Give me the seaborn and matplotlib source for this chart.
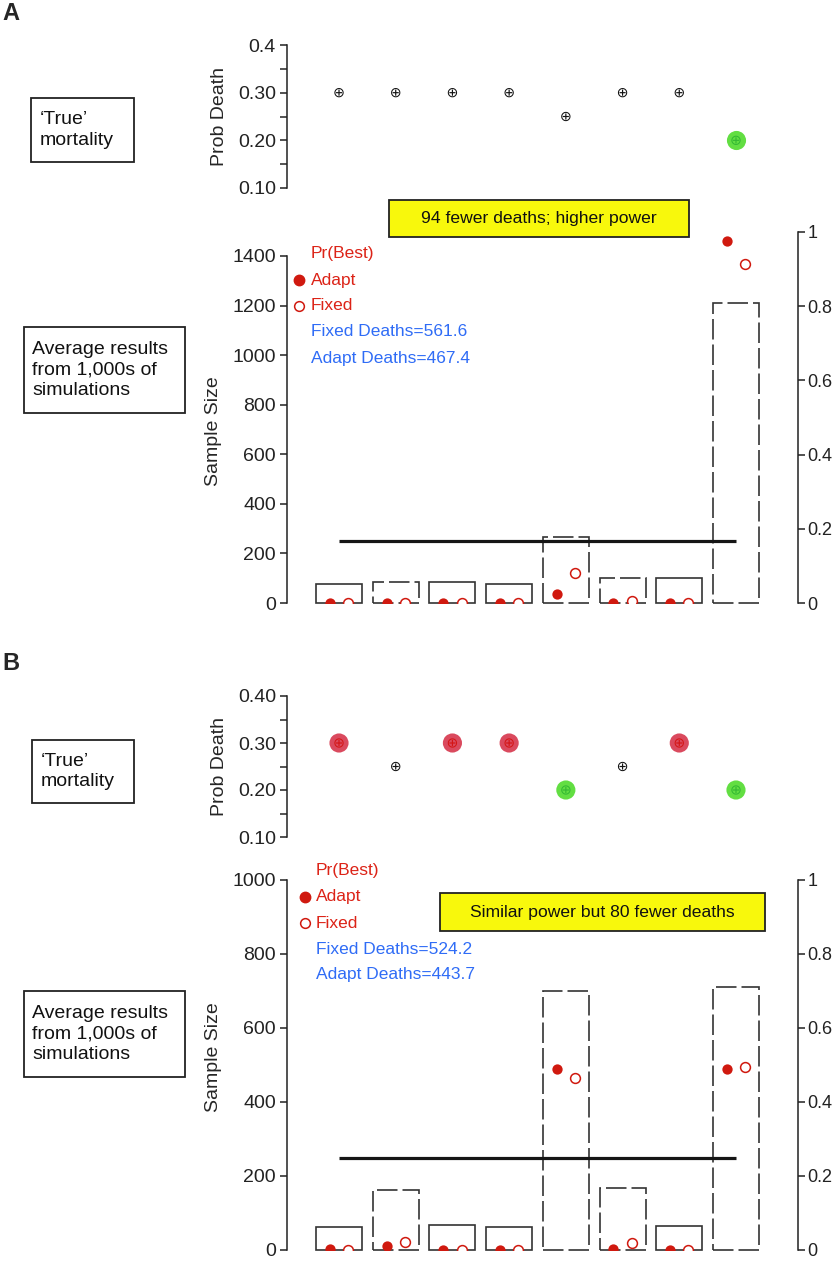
import numpy as np
import pandas as pd
import matplotlib.pyplot as plt
import seaborn as sns
from matplotlib.patches import Rectangle
from matplotlib.lines import Line2D

# --- data ---
arms = [0, 1, 2, 3, 4, 5, 6, 7]
target_n = 250

true_mort_a = [0.30, 0.30, 0.30, 0.30, 0.25, 0.30, 0.30, 0.20]
status_a = ["none", "none", "none", "none", "none", "none", "none", "best"]
sample_a = [75, 85, 85, 78, 265, 100, 100, 1210]
dashed_a = [False, True, False, False, True, True, False, True]
pbest_adapt_a = [0.0, 0.0, 0.0, 0.0, 0.024, 0.0, 0.0, 0.976]
pbest_fixed_a = [0.0, 0.0, 0.0, 0.0, 0.081, 0.005, 0.0, 0.914]

true_mort_b = [0.30, 0.25, 0.30, 0.30, 0.20, 0.25, 0.30, 0.20]
status_b = ["worst", "none", "worst", "worst", "best", "none", "worst", "best"]
sample_b = [62, 163, 68, 62, 700, 167, 66, 711]
dashed_b = [False, True, False, False, True, True, False, True]
pbest_adapt_b = [0.002, 0.011, 0.0, 0.0, 0.49, 0.003, 0.0, 0.49]
pbest_fixed_b = [0.0, 0.022, 0.0, 0.0, 0.465, 0.019, 0.0, 0.495]

deaths_a = (561.6, 467.4)
deaths_b = (524.2, 443.7)

sns.set_theme(style="ticks")
plt.rcParams["font.family"] = ["Liberation Sans", "DejaVu Sans"]

W, H = 840, 1261
fig = plt.figure(figsize=(W / 100, H / 100), dpi=100)


def fx(px):
    return px / W


def fy(py):
    return 1 - py / H


RED = "#d0190f"
RED_TXT = "#dc2317"
BLUE = "#2f6cf6"
EDGE = "#333333"
X0, X1 = 287, 798
XLIM = (-(339 - 287) / 56.7, 7 + (798 - 736) / 56.7)


def style_axis(ax):
    ax.tick_params(axis="y", direction="out", length=5, width=1.1, labelsize=14,
                   pad=3, colors="#222222")
    ax.tick_params(axis="y", which="minor", direction="out", length=5, width=1.1)
    ax.set_xticks([])
    ax.set_xlabel("")
    ax.set_xlim(*XLIM)


def top_panel(ytop, ybot, mort, status, labels):
    ax = fig.add_axes([fx(X0), fy(ybot), (X1 - X0) / W, (ybot - ytop) / H])
    df = pd.DataFrame({"arm": arms, "mort": mort, "status": status})
    hi = df[df["status"] != "none"]
    sns.scatterplot(data=hi, x="arm", y="mort", hue="status",
                    palette={"best": "#62de42", "worst": "#da4a5e"},
                    s=190, linewidth=0, legend=False, ax=ax, zorder=2)
    sns.scatterplot(data=df, x="arm", y="mort", hue="status",
                    palette={"none": "#111111", "best": "#33b833", "worst": "#d41515"},
                    marker=r"$\oplus$", s=45, linewidth=0, legend=False, ax=ax, zorder=3)
    ax.set_ylim(0.1, 0.4)
    ax.set_yticks([0.1, 0.2, 0.3, 0.4])
    ax.set_yticks([0.15, 0.25, 0.35], minor=True)
    ax.set_yticklabels(labels)
    for s in ["top", "right", "bottom"]:
        ax.spines[s].set_visible(False)
    ax.spines["left"].set_linewidth(1.1)
    ax.spines["left"].set_color("#222222")
    style_axis(ax)
    ax.set_ylabel("Prob Death", fontsize=14)
    ax.yaxis.set_label_coords((228 - X0) / (X1 - X0), 0.5)
    return ax


def bottom_panel(ytop, ybot, ymax, ylim_top, sizes, dashed, pa, pf, label_y):
    ax = fig.add_axes([fx(X0), fy(ybot), (X1 - X0) / W, (ybot - ytop) / H])
    df = pd.DataFrame({"arm": arms, "n": sizes})
    sns.barplot(data=df, x="arm", y="n", native_scale=True, width=0.81, fill=False,
                color=EDGE, linewidth=1.2, errorbar=None, ax=ax)
    for patch, d in zip(ax.patches, dashed):
        patch.set_edgecolor(EDGE)
        patch.set_clip_on(False)
        if d:
            patch.set_linestyle((0, (12.3, 3)))
    ax.hlines(target_n, arms[0], arms[-1], color="#151515", lw=2.3, zorder=4)
    ax.set_ylim(0, ylim_top)
    ax.set_yticks(np.arange(0, ymax + 1, 200))
    for s in ["top", "right", "bottom"]:
        ax.spines[s].set_visible(False)
    ax.spines["left"].set_bounds(0, ymax)
    ax.spines["left"].set_linewidth(1.1)
    ax.spines["left"].set_color("#222222")
    style_axis(ax)
    ax.set_ylabel("Sample Size", fontsize=14)
    ax.yaxis.set_label_coords((222 - X0) / (X1 - X0), (ybot - label_y) / (ybot - ytop))

    axr = ax.twinx()
    pdf = pd.DataFrame({"arm": arms, "adapt": pa, "fixed": pf})
    sns.scatterplot(x=pdf["arm"] - 0.16, y=pdf["adapt"], color=RED, s=55,
                    linewidth=0, ax=axr, zorder=5)
    axr.scatter(pdf["arm"] + 0.16, pdf["fixed"], s=50, facecolors="white",
                edgecolors=RED, linewidths=1.1, zorder=5)
    axr.set_ylim(0, 1)
    axr.set_yticks([0, 0.2, 0.4, 0.6, 0.8, 1.0])
    axr.set_yticklabels(["0", "0.2", "0.4", "0.6", "0.8", "1"])
    for s in ["top", "left", "bottom"]:
        axr.spines[s].set_visible(False)
    axr.spines["right"].set_linewidth(1.1)
    axr.spines["right"].set_color("#222222")
    axr.tick_params(axis="y", direction="out", length=5, width=1.1, labelsize=13,
                    pad=2, colors="#222222")
    axr.set_ylabel("")
    axr.set_xticks([])
    axr.set_xlim(*XLIM)
    return ax


def legend_block(xdot, xtxt, rows, deaths):
    fig.text(fx(xtxt), fy(rows[0]), "Pr(Best)", color=RED_TXT, fontsize=12.5, va="center")
    fig.text(fx(xtxt), fy(rows[1]), "Adapt", color=RED_TXT, fontsize=12.5, va="center")
    fig.text(fx(xtxt), fy(rows[2]), "Fixed", color=RED_TXT, fontsize=12.5, va="center")
    fig.add_artist(Line2D([fx(xdot)], [fy(rows[1])], marker="o", ms=7.5, color=RED,
                          mec=RED, transform=fig.transFigure))
    fig.add_artist(Line2D([fx(xdot)], [fy(rows[2])], marker="o", ms=7, mfc="white",
                          mec=RED, mew=1.1, transform=fig.transFigure))
    fig.text(fx(xtxt), fy(rows[3]), f"Fixed Deaths={deaths[0]}", color=BLUE,
             fontsize=12.5, va="center")
    fig.text(fx(xtxt), fy(rows[4]), f"Adapt Deaths={deaths[1]}", color=BLUE,
             fontsize=12.5, va="center")


def text_box(x0, y0, x1, y1, text, tx, fc="white", ha="left", fs=14):
    fig.add_artist(Rectangle((fx(x0), fy(y1)), fx(x1) - fx(x0), fy(y0) - fy(y1),
                             transform=fig.transFigure, fc=fc, ec="#222222", lw=1.3))
    fig.text(fx(tx), fy((y0 + y1) / 2), text, fontsize=fs, ha=ha, va="center",
             linespacing=1.25, color="#111111")


# ---- Panel A ----
fig.text(fx(2), fy(13), "A", fontsize=17, fontweight="bold", va="center")
top_panel(45, 188, true_mort_a, status_a, ["0.10", "0.20", "0.30", "0.4"])
bottom_panel(232, 603, 1400, 1400 * 371 / 347, sample_a, dashed_a,
             pbest_adapt_a, pbest_fixed_a, 431)
text_box(31, 98, 134, 162, "\u2018True\u2019\nmortality", 40)
text_box(24, 327, 185, 413, "Average results\nfrom 1,000s of\nsimulations", 32)
text_box(389, 200, 689, 237, "94 fewer deaths; higher power", 539, fc="#f8f80c",
         ha="center", fs=12.6)
legend_block(299, 311, [254, 280, 306, 332, 358], deaths_a)

# ---- Panel B ----
fig.text(fx(2), fy(663), "B", fontsize=17, fontweight="bold", va="center")
top_panel(696, 837, true_mort_b, status_b, ["0.10", "0.20", "0.30", "0.40"])
bottom_panel(880, 1250, 1000, 1000, sample_b, dashed_b,
             pbest_adapt_b, pbest_fixed_b, 1057)
text_box(32, 740, 134, 803, "\u2018True\u2019\nmortality", 41)
text_box(24, 991, 185, 1077, "Average results\nfrom 1,000s of\nsimulations", 32)
text_box(440, 893, 765, 931, "Similar power but 80 fewer deaths", 602, fc="#f8f80c",
         ha="center", fs=12.6)
legend_block(305, 316, [870, 897, 923, 949, 975], deaths_b)

fig.savefig("out.png", dpi=100)
